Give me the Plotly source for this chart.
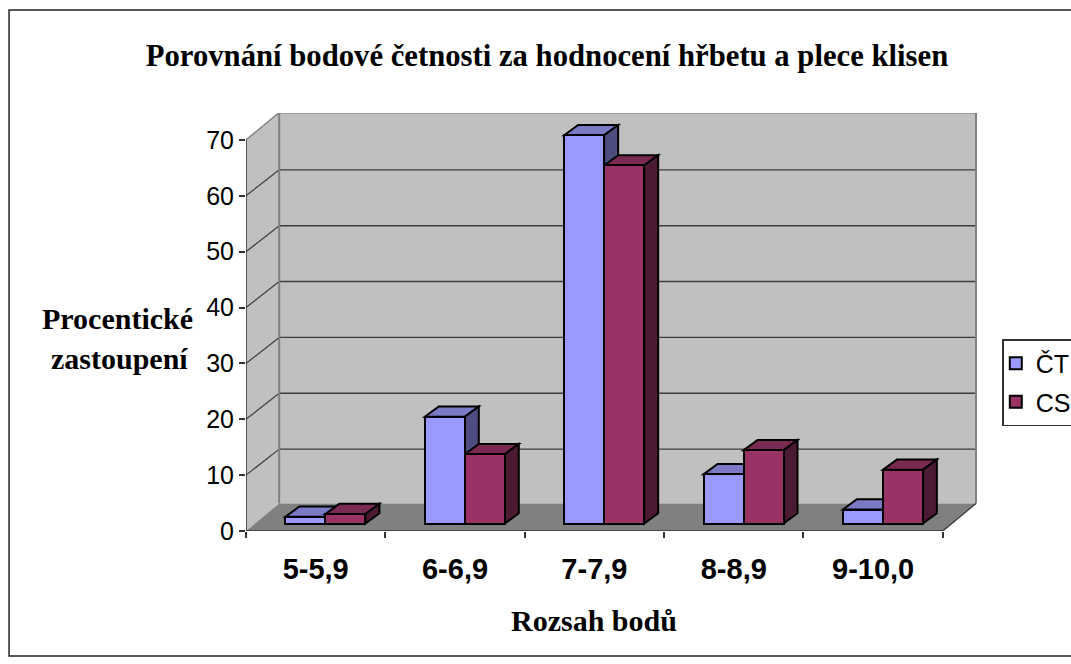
import plotly.graph_objects as go

categories = ["5-5,9", "6-6,9", "7-7,9", "8-8,9", "9-10,0"]
ct_values = [1.2, 19.1, 69.5, 8.8, 2.5]
cs_values = [1.7, 12.4, 64.1, 13.1, 9.6]
y_ticks = [0, 10, 20, 30, 40, 50, 60, 70]
title = "Porovnání bodové četnosti za hodnocení hřbetu a plece klisen"
y_title_lines = ["Procentické", "zastoupení"]
x_title = "Rozsah bodů"

# plot frame in px
L, R, T, B = 245.5, 976.7, 113.0, 531.0
CAT_PX, VAL_PX = 139.4, 5.586
X_RANGE = (R - L) / CAT_PX
Y_RANGE = (B - T) / VAL_PX
WALL_DX, WALL_DY = 33.2 / CAT_PX, 27.5 / VAL_PX
GRID_DY = 26 / VAL_PX
BAR_W = 40 / CAT_PX
BAR_LIFT = 7.5 / VAL_PX
BAR_DX, BAR_DY = 14 / CAT_PX, 10.3 / VAL_PX
GROUP_SHIFT = 0.07
n = len(categories)

C_WALL, C_FLOOR, C_EDGE = "#C0C0C0", "#808080", "#808080"
C_GRID = "#3c3c3c"
C_CT, C_CT_TOP, C_CT_SIDE = "#9999FF", "#7A7AC6", "#4D4D80"
C_CS, C_CS_TOP, C_CS_SIDE = "#993366", "#7A2952", "#4D1A33"
BAR_LINE = dict(color="black", width=2)


def poly(pts, fill, line=None):
    path = "M" + " L".join(f"{x},{y}" for x, y in pts) + " Z"
    return dict(type="path", path=path, xref="x", yref="y", layer="below",
                fillcolor=fill, line=line or dict(width=0))


def seg(x0, y0, x1, y1, color, width):
    return dict(type="line", x0=x0, y0=y0, x1=x1, y1=y1, xref="x", yref="y",
                layer="below", line=dict(color=color, width=width))


shapes = [
    dict(type="rect", xref="paper", yref="paper", layer="below",
         x0=(8.5 - L) / (R - L), x1=1.3,
         y0=(B - 656) / (B - T), y1=(B - 10) / (B - T),
         line=dict(color="#222222", width=1.5), fillcolor="white"),
    poly([(WALL_DX, WALL_DY), (n + WALL_DX, WALL_DY), (n + WALL_DX, WALL_DY + y_ticks[-1]), (WALL_DX, WALL_DY + y_ticks[-1])], C_WALL),
    poly([(0, 0), (WALL_DX, WALL_DY), (WALL_DX, WALL_DY + y_ticks[-1]), (0, y_ticks[-1])], C_WALL),
    poly([(0, 0), (n, 0), (n + WALL_DX, WALL_DY), (WALL_DX, WALL_DY)], C_FLOOR),
]
for v in y_ticks[1:-1]:
    shapes.append(seg(0, v, WALL_DX, v + GRID_DY, C_GRID, 1.2))
    shapes.append(seg(WALL_DX, v + GRID_DY, n + WALL_DX, v + GRID_DY, C_GRID, 1.4))
top = y_ticks[-1]
shapes += [
    seg(0, top, WALL_DX, top + WALL_DY, C_EDGE, 1.5),
    seg(WALL_DX, top + WALL_DY, n + WALL_DX, top + WALL_DY, C_EDGE, 2),
    seg(WALL_DX, WALL_DY, WALL_DX, top + WALL_DY, C_EDGE, 2),
    seg(n + WALL_DX, WALL_DY, n + WALL_DX, top + WALL_DY, C_EDGE, 2),
    seg(n, 0, n + WALL_DX, WALL_DY, "#333333", 1.2),
    seg(0, 0, 0, top, "#333333", 1.5),
    seg(0, 0, n, 0, "#333333", 1.5),
]


def box_faces(lefts, values, col_top, col_side):
    out = []
    for x0, v in zip(lefts, values):
        x1 = x0 + BAR_W
        yt = BAR_LIFT + v
        out.append(poly([(x0, yt), (x1, yt), (x1 + BAR_DX, yt + BAR_DY), (x0 + BAR_DX, yt + BAR_DY)], col_top, BAR_LINE))
        out.append(poly([(x1, BAR_LIFT), (x1 + BAR_DX, BAR_LIFT + BAR_DY), (x1 + BAR_DX, yt + BAR_DY), (x1, yt)], col_side, BAR_LINE))
    return out


centers = [i + 0.5 for i in range(n)]
ct_off, cs_off = GROUP_SHIFT - BAR_W, GROUP_SHIFT
shapes += box_faces([c + ct_off for c in centers], ct_values, C_CT_TOP, C_CT_SIDE)
shapes += box_faces([c + cs_off for c in centers], cs_values, C_CS_TOP, C_CS_SIDE)

fig = go.Figure()
fig.add_bar(name="ČT", x=centers, y=ct_values, base=BAR_LIFT, width=BAR_W, offset=ct_off,
            marker=dict(color=C_CT, line=BAR_LINE), legendgroup="a")
fig.add_bar(name="CS", x=centers, y=cs_values, base=BAR_LIFT, width=BAR_W, offset=cs_off,
            marker=dict(color=C_CS, line=BAR_LINE), legendgroup="b")

SERIF = "Liberation Serif"
SANS = "Liberation Sans"
annotations = [
    dict(text=f"<b>{y_title_lines[0]}</b>", xref="paper", yref="paper", showarrow=False, xanchor="center", yanchor="middle",
         x=(117 - L) / (R - L), y=(B - 318) / (B - T), font=dict(family=SERIF, size=30, color="black")),
    dict(text=f"<b>{y_title_lines[1]}</b>", xref="paper", yref="paper", showarrow=False, xanchor="center", yanchor="middle",
         x=(118.5 - L) / (R - L), y=(B - 358) / (B - T), font=dict(family=SERIF, size=30, color="black")),
    dict(text=f"<b>{x_title}</b>", xref="x", yref="paper", showarrow=False, xanchor="center", yanchor="middle",
         x=n / 2, y=(B - 620) / (B - T), font=dict(family=SERIF, size=30, color="black")),
]

fig.update_layout(
    width=1071, height=664,
    margin=dict(l=L, r=1071 - R, t=T, b=664 - B, autoexpand=False),
    paper_bgcolor="white", plot_bgcolor="white",
    barmode="overlay", bargap=0,
    title=dict(text=f"<b>{title}</b>", x=(547 / 1071), xanchor="center", y=1 - 55 / 664, yanchor="middle",
               font=dict(family=SERIF, size=30.7, color="black")),
    xaxis=dict(range=[0, X_RANGE], tickmode="array", tickvals=centers, ticktext=[f"<b>{c}</b>" for c in categories],
               ticks="", ticklen=0, showgrid=False, zeroline=False, showline=False,
               ticklabelstandoff=18, tickfont=dict(family=SANS, size=29, color="black"),
               minor=dict(tickmode="array", tickvals=list(range(n + 1)), ticks="outside", ticklen=6,
                          tickcolor="#333333", tickwidth=1.5, showgrid=False)),
    yaxis=dict(range=[0, Y_RANGE], tickmode="array", tickvals=y_ticks, ticks="outside", ticklen=6,
               tickcolor="#333333", tickwidth=1.5, showgrid=False, zeroline=False, showline=False,
               tickfont=dict(family=SANS, size=25, color="black")),
    legend=dict(x=(1002 - L) / (R - L), y=(B - 339) / (B - T), xanchor="left", yanchor="top",
                bordercolor="#333333", borderwidth=1.5, bgcolor="white",
                font=dict(family=SANS, size=25, color="black"),
                traceorder="grouped", tracegroupgap=3, indentation=-8, entrywidth=80),
    shapes=shapes, annotations=annotations, showlegend=True,
)

fig.write_html("out.html", config=dict(displayModeBar=False),
               post_script="document.body.style.margin='0';document.body.style.overflow='hidden';")
